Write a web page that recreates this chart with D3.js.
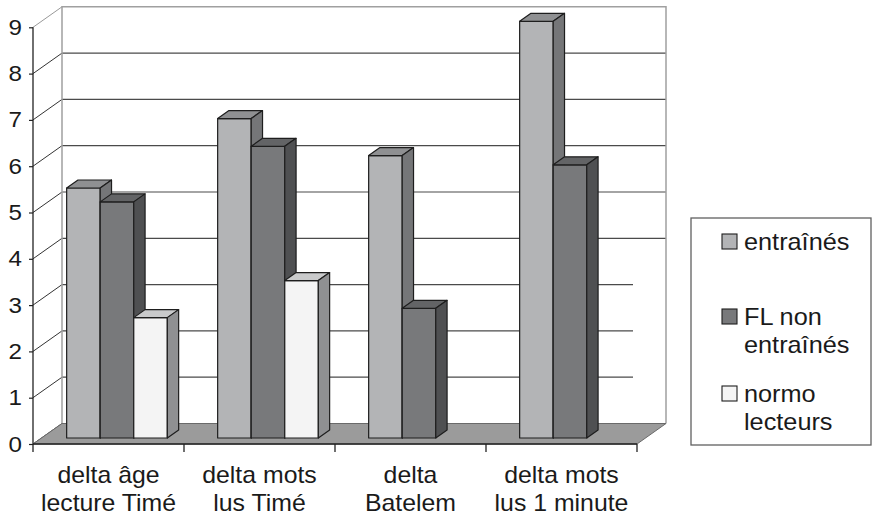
<!DOCTYPE html>
<html><head><meta charset="utf-8">
<script src="https://cdn.jsdelivr.net/npm/d3@7"></script>
<style>
html,body{margin:0;padding:0;background:#fff;}
svg{display:block;font-family:Arial,"Liberation Sans",sans-serif;}
</style></head>
<body><svg id="c" width="874" height="520"></svg>
<script>
const categories = [["delta âge","lecture Timé"],["delta mots","lus Timé"],["delta","Batelem"],["delta mots","lus 1 minute"]];
const seriesNames = ["entraînés","FL non entraînés","normo lecteurs"];
const legendLines = [["entraînés"],["FL non","entraînés"],["normo","lecteurs"]];
const entraines = [5.4, 6.9, 6.1, 9.0];
const flNonEntraines = [5.1, 6.3, 2.8, 5.9];
const normoLecteurs = [2.6, 3.4, null, null];
const yTicks = [0,1,2,3,4,5,6,7,8,9];

const seriesValues = [entraines, flNonEntraines, normoLecteurs];
const colors = [
  {front:"#b3b4b6", top:"#8f9092", side:"#757678"},
  {front:"#78797b", top:"#636466", side:"#4f5052"},
  {front:"#f4f4f4", top:"#c9cacb", side:"#8f9092"}
];

const svg = d3.select("#c");
const DX = 29, DY = -20.5;
const x0 = d3.scaleBand().domain(d3.range(categories.length)).range([33, 637]);
const x1 = d3.scaleBand().domain(d3.range(seriesNames.length))
  .range([x0.bandwidth()/6, x0.bandwidth()*5/6]);
const y = d3.scaleLinear().domain([0, 9]).range([444, 27.3]);
const P = (xv, v, d) => [xv + DX*d, y(v) + DY*d];
const xL = x0.range()[0], xR = x0.range()[1];

// back wall
const wall = [P(xL,0,1),P(xL,9,1),P(xR,9,1),P(xR,0,1)];
svg.append("polygon").attr("points", wall.map(p=>p.join(",")).join(" "))
  .attr("fill","#fff").attr("stroke","none");

// gridlines on back wall + diagonals on left
yTicks.forEach(v=>{
  if (v>0 && v<9) {
    const a = P(xL,v,1), b = P(xR,v,1);
    svg.append("line").attr("x1",a[0]).attr("y1",a[1])
      .attr("x2", v<=3 ? b[0]-33 : b[0]).attr("y2",b[1])
      .attr("stroke","#4a4a4a").attr("stroke-width",1.2);
  }
  const c = P(xL,v,0), d = P(xL,v,1);
  svg.append("line").attr("x1",c[0]).attr("y1",c[1]).attr("x2",d[0]).attr("y2",d[1])
    .attr("stroke", v===9 ? "#999" : "#333").attr("stroke-width",1);
});
// wall borders
svg.append("polyline").attr("points",[P(xL,0,1),P(xL,9,1),P(xR,9,1),P(xR,0,1)].map(p=>p.join(",")).join(" "))
  .attr("fill","none").attr("stroke","#a0a0a0").attr("stroke-width",1.5);

// floor
const floor = [P(xL,0,0),P(xR,0,0),P(xR,0,1),P(xL,0,1)];
svg.append("polygon").attr("points", floor.map(p=>p.join(",")).join(" "))
  .attr("fill","#9b9b9b").attr("stroke","#6a6a6a").attr("stroke-width",1);
svg.append("line").attr("x1",xL).attr("y1",y(0)).attr("x2",xR).attr("y2",y(0))
  .attr("stroke","#222").attr("stroke-width",1.3);

// bars
const f1 = 6/20.5, f2 = 14/20.5;
const poly = (pts, fill) => svg.append("polygon")
  .attr("points", pts.map(p=>p.join(",")).join(" "))
  .attr("fill", fill).attr("stroke","#1e1e1e").attr("stroke-width",1.2).attr("stroke-linejoin","round");
categories.forEach((cat, c) => {
  seriesValues.forEach((vals, s) => {
    const v = vals[c];
    if (v === null || v === undefined) return;
    const xa = x0(c) + x1(s), xb = xa + x1.bandwidth();
    const fa0 = P(xa,0,f1), fb0 = P(xb,0,f1), fav = P(xa,v,f1), fbv = P(xb,v,f1);
    const bav = P(xa,v,f2), bbv = P(xb,v,f2), bb0 = P(xb,0,f2);
    poly([fa0,fav,fbv,fb0], colors[s].front);
    poly([fav,bav,bbv,fbv], colors[s].top);
    poly([fb0,fbv,bbv,bb0], colors[s].side);
  });
});

// y axis
const yAxis = svg.append("g").attr("transform","translate(33,0)")
  .call(d3.axisLeft(y).tickValues(yTicks).tickSize(4).tickFormat(d3.format("d")));
yAxis.select(".domain").attr("d","M0,"+y(9)+"V"+(y(0)+8)).attr("stroke","#222").attr("stroke-width",1.3);
yAxis.selectAll(".tick line").attr("stroke","#222").attr("stroke-width",1.2);
yAxis.selectAll(".tick text").attr("x",null)
  .attr("transform","translate(-11,0) scale(1.1,1)")
  .attr("font-size",22).attr("fill","#1a1a1a").attr("font-family","Arial, 'Liberation Sans', sans-serif");

// x axis ticks at category boundaries
categories.forEach((cat,c)=>{
  const xe = x0(c) + x0.bandwidth();
  svg.append("line").attr("x1",xe).attr("x2",xe).attr("y1",y(0)).attr("y2",y(0)+8)
    .attr("stroke","#222").attr("stroke-width",1.3);
  const cx = x0(c) + x0.bandwidth()/2;
  cat.forEach((line,li)=>{
    svg.append("text").attr("transform",`translate(${cx},${483+li*28}) scale(1.08,1)`)
      .attr("text-anchor","middle").attr("font-size",23).attr("fill","#1a1a1a").text(line);
  });
});

// legend
svg.append("rect").attr("x",691).attr("y",218).attr("width",180).attr("height",227)
  .attr("fill","#fff").attr("stroke","#606060").attr("stroke-width",1.3);
const legendY = [250, 325, 402];
legendLines.forEach((lines,i)=>{
  svg.append("rect").attr("x",722).attr("y",legendY[i]-16).attr("width",15).attr("height",15)
    .attr("fill",colors[i].front).attr("stroke","#1e1e1e").attr("stroke-width",1.1);
  lines.forEach((t,li)=>{
    svg.append("text").attr("transform",`translate(744,${legendY[i]+li*28}) scale(1.1,1)`)
      .attr("font-size",23).attr("fill","#1a1a1a").text(t);
  });
});
</script></body></html>
